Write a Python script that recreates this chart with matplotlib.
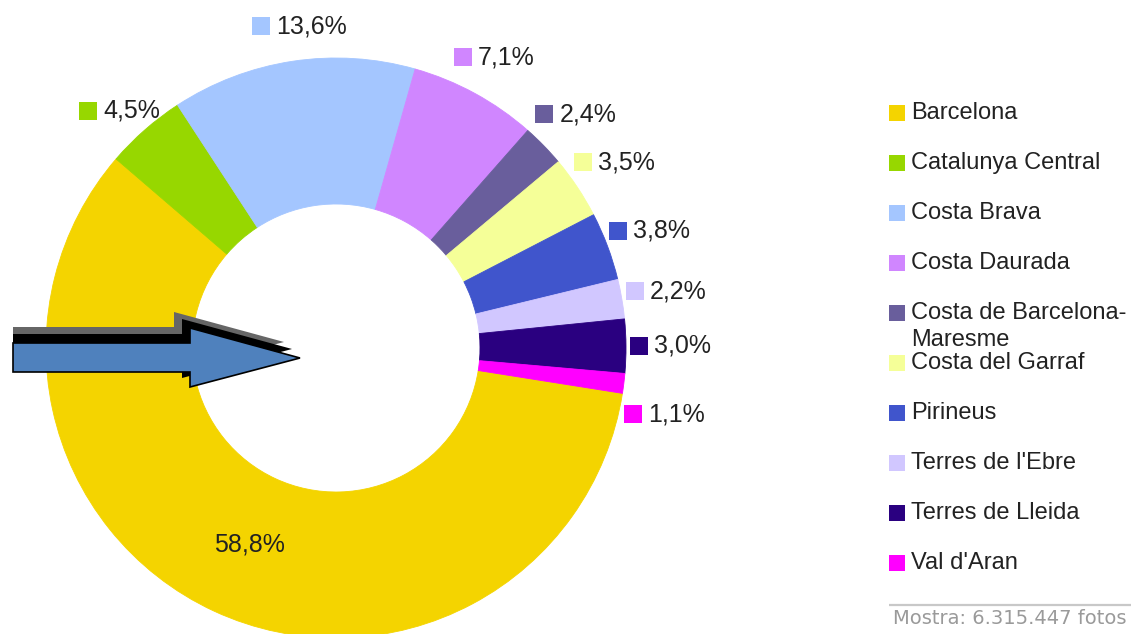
import numpy as np
import matplotlib
matplotlib.use('Agg')
import matplotlib.pyplot as plt
from matplotlib.patches import Polygon, Rectangle

# ---------------- data ----------------
regions = ['Barcelona', 'Catalunya Central', 'Costa Brava', 'Costa Daurada',
           'Costa de Barcelona-\nMaresme', 'Costa del Garraf', 'Pirineus',
           "Terres de l'Ebre", 'Terres de Lleida', "Val d'Aran"]
shares = [58.8, 4.5, 13.6, 7.1, 2.4, 3.5, 3.8, 2.2, 3.0, 1.1]
colors = ['#F4D400', '#97D700', '#A4C6FF', '#D086FF', '#695E9C',
          '#F5FF98', '#4055CC', '#D1C7FF', '#2A0080', '#FF00FF']
sample_text = 'Mostra: 6.315.447 fotos'

# ---------------- layout ----------------
W, H = 1131, 634
def Y(ypx):
    return H - ypx

fig = plt.figure(figsize=(W / 100, H / 100), dpi=100)
ax = fig.add_axes([0, 0, 1, 1])

cx, cy = 336, Y(348)
R_out, R_in = 290, 144

wedges, _ = ax.pie(shares, colors=colors, startangle=351, counterclock=False,
                   radius=R_out, center=(cx, cy),
                   wedgeprops=dict(width=R_out - R_in, linewidth=0.6))
for w, c in zip(wedges, colors):
    w.set_edgecolor(c)

ax.set_xlim(0, W)
ax.set_ylim(0, H)
ax.set_aspect('auto')
ax.axis('off')

def fmt(v):
    return f"{v:.1f}".replace('.', ',') + '%'

label_font = dict(family=['Liberation Sans', 'DejaVu Sans'], size=18, color='#222222')
renderer = fig.canvas.get_renderer()

# outside labels (angle nudges / radius tweaks to avoid crowding)
R_lab = 335
ang_nudge = {1: 1.1, 2: -2.2, 9: -4.4}
rad_nudge = {1: -14, 2: -11, 3: -4}
for i, (w, v, c) in enumerate(zip(wedges, shares, colors)):
    mid_deg = (w.theta1 + w.theta2) / 2 + ang_nudge.get(i, 0.0)
    mid = np.deg2rad(mid_deg)
    if i == 0:
        rr = (R_out + R_in) / 2
        ax.text(cx + rr * np.cos(mid) + 5, cy + rr * np.sin(mid), fmt(v),
                ha='center', va='center', **label_font)
        continue
    rl = R_lab + rad_nudge.get(i, 0)
    bx = cx + rl * np.cos(mid)
    by = cy + rl * np.sin(mid)
    t = ax.text(0, by, fmt(v), ha='left', va='center', **label_font)
    tw = t.get_window_extent(renderer).width
    s, gap = 18, 6
    bw = s + gap + tw
    left = bx - bw / 2
    t.set_x(left + s + gap)
    ax.add_patch(Rectangle((left, by - s / 2), s, s, facecolor=c, edgecolor='none', zorder=3))

# legend
leg_font = dict(family=['Liberation Sans', 'DejaVu Sans'], size=17, color='#222222')
for i, (name, c) in enumerate(zip(regions, colors)):
    yc = Y(113 + 50 * i)
    ax.add_patch(Rectangle((889, yc - 8), 16, 16, facecolor=c, edgecolor='none'))
    for j, line in enumerate(name.split('\n')):
        ax.text(911, yc - 27 * j, line, ha='left', va='center', **leg_font)

# footer
ax.plot([889, W], [Y(605), Y(605)], color='#C8C8C8', lw=1.6, solid_capstyle='butt')
ax.text(893, Y(609), sample_text, ha='left', va='top', family='DejaVu Sans',
        size=14, color='#9A9A9A')

# block arrow with layered shadow
def arrow_pts(dx, dy):
    xl = 13
    pts = [(xl, 343), (190, 343), (190, 328), (300, 358),
           (190, 387), (190, 372), (xl, 372)]
    out = []
    for (x, y) in pts:
        if x == xl:
            out.append((x, Y(y + dy)))
        else:
            out.append((x + dx, Y(y + dy)))
    return out

ax.add_patch(Polygon(arrow_pts(-16, -16), closed=True, facecolor='#666666', edgecolor='none', zorder=5))
ax.add_patch(Polygon(arrow_pts(-8, -9), closed=True, facecolor='#000000', edgecolor='none', zorder=6))
ax.add_patch(Polygon(arrow_pts(0, 0), closed=True, facecolor='#4F81BD', edgecolor='#000000', lw=1.2, zorder=7))

fig.savefig('out.png', dpi=100)
